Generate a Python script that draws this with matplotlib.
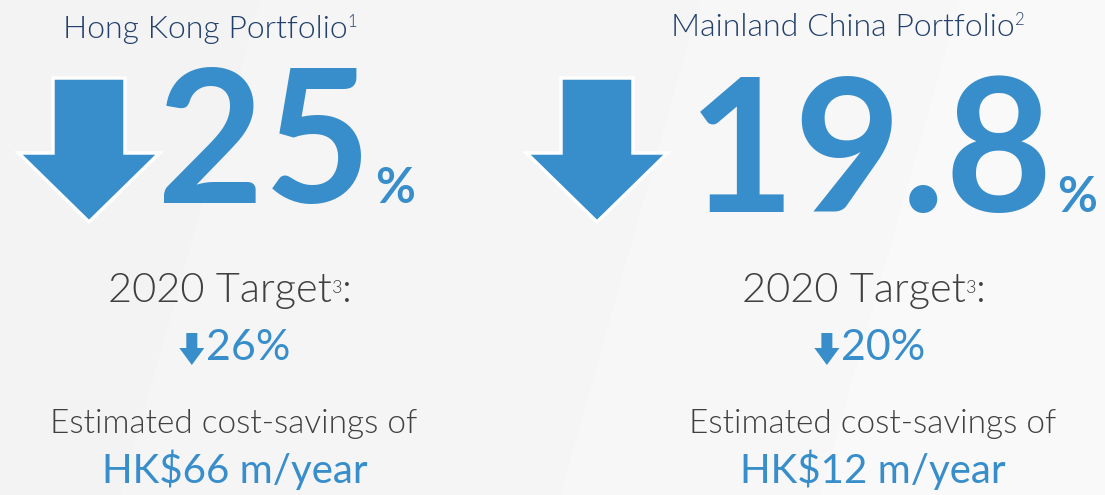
import matplotlib
matplotlib.use("Agg")
import matplotlib.pyplot as plt
from matplotlib.patches import Polygon

plt.rcParams['font.family'] = ['Lato', 'DejaVu Sans']

# data
panels = ['Hong Kong Portfolio', 'Mainland China Portfolio']
panel_notes = ['1', '2']
reductions = ['25', '19.8']
target_label = '2020 Target'
target_note = '3'
targets = ['26%', '20%']
savings_label = 'Estimated cost-savings of'
savings = ['HK$66 m/year', 'HK$12 m/year']

# layout (pixels, y down)
title_cx = [210, 848]
title_y = [38, 36]
arrow_cx = [89, 597]
num_x = [157, 688]
num_y = [203, 212]
tgt_cx = [230, 864]
row_cx = [234, 869]
est_cx = [234, 873]
sav_cx = [235, 873]

BLUE = '#388DCB'
NAVY = '#22406B'
GREY = '#404040'
THIN = 300

fig = plt.figure(figsize=(11.05, 4.95), dpi=100)
ax = fig.add_axes([0, 0, 1, 1])
ax.set_xlim(0, 1105)
ax.set_ylim(495, 0)
ax.axis('off')
fig.patch.set_facecolor('#F3F3F3')

# faint diagonal bands in the background
for x0, x1, c in [(120, 560, '#F5F5F5'), (560, 1105, '#F7F7F7'), (820, 1105, '#F9F9F9')]:
    ax.add_patch(Polygon([(x0 + 140, 0), (x1 + 140, 0), (x1, 495), (x0, 495)],
                         closed=True, fc=c, ec='none', zorder=0))

rend = fig.canvas.get_renderer()


def put_row(cx, y, pieces):
    objs = []
    for s, props, dy in pieces:
        t = ax.text(0, y + dy, s, ha='left', va='baseline', parse_math=False, **props)
        objs.append(t)
    widths = [t.get_window_extent(rend).width for t in objs]
    x = cx - sum(widths) / 2
    for t, w in zip(objs, widths):
        t.set_x(x)
        x += w
    return objs


def down_arrow(cx, top, head_y, tip_y, shaft_w, head_w, lw):
    pts = [(cx - shaft_w / 2, top), (cx + shaft_w / 2, top), (cx + shaft_w / 2, head_y),
           (cx + head_w / 2, head_y), (cx, tip_y), (cx - head_w / 2, head_y),
           (cx - shaft_w / 2, head_y)]
    ax.add_patch(Polygon(pts, closed=True, fc=BLUE, ec='white', lw=lw, joinstyle='miter', zorder=3))


for i in range(2):
    # title with footnote
    put_row(title_cx[i], title_y[i], [
        (panels[i], dict(fontsize=23, color=NAVY, fontweight=THIN), 0),
        (panel_notes[i], dict(fontsize=12, color=NAVY, fontweight=THIN), -11),
    ])

    # big arrow + big number
    down_arrow(arrow_cx[i], 78, 153, 222, 72, 141, 2.5)
    num = ax.text(num_x[i], num_y[i], reductions[i], ha='left', va='baseline',
                  fontsize=133, fontweight='bold', color=BLUE, zorder=4)
    ext = num.get_window_extent(rend)
    ax.text(ext.x1 + 4, num_y[i], '%', ha='left', va='baseline',
            fontsize=35, fontweight='bold', color=BLUE, zorder=4)

    # target line
    put_row(tgt_cx[i], 302, [
        (target_label, dict(fontsize=30, color=GREY, fontweight=THIN), 0),
        (target_note, dict(fontsize=13, color=GREY, fontweight=THIN), -9),
        (':', dict(fontsize=30, color=GREY, fontweight=THIN), 0),
    ])

    # small arrow + target value
    t = ax.text(0, 360, targets[i], ha='left', va='baseline', fontsize=31, color=BLUE)
    tw = t.get_window_extent(rend).width
    aw = 26
    x0 = row_cx[i] - (aw + tw) / 2
    down_arrow(x0 + aw / 2, 333, 348, 365, 11, 25, 0)
    t.set_x(x0 + aw + 1)

    # savings
    ax.text(est_cx[i], 433, savings_label, ha='center', va='baseline',
            fontsize=24, color=GREY, fontweight=THIN)
    ax.text(sav_cx[i], 483, savings[i], ha='center', va='baseline',
            fontsize=29, color=BLUE, parse_math=False)

fig.savefig('out.png', dpi=100, facecolor=fig.get_facecolor())
